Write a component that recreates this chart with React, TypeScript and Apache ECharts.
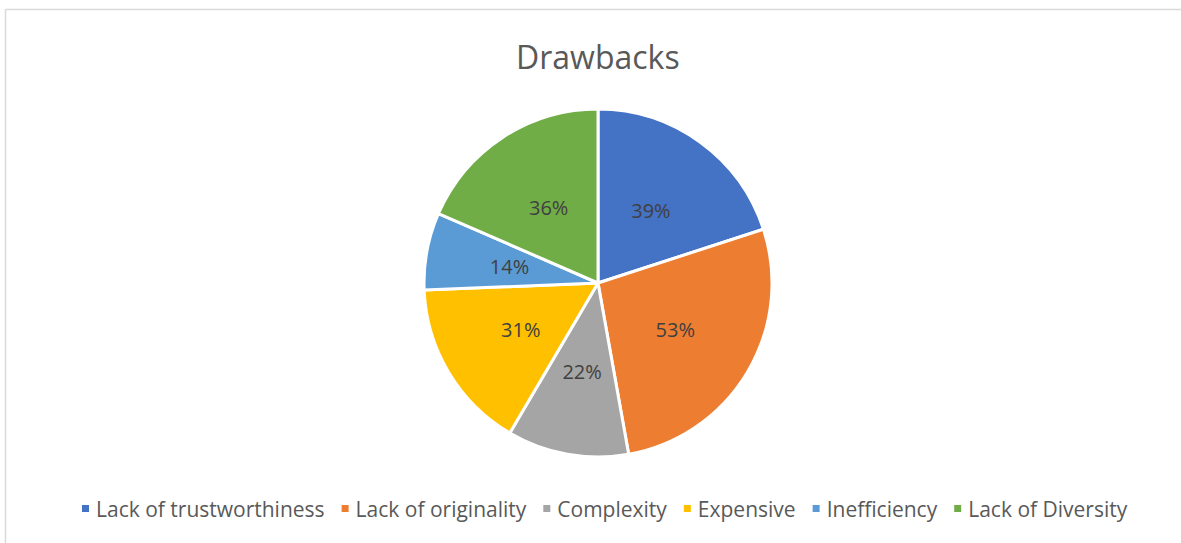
import React, { useEffect, useRef } from "react";
import * as echarts from "echarts";

const categories = [
  "Lack of trustworthiness",
  "Lack of originality",
  "Complexity",
  "Expensive",
  "Inefficiency",
  "Lack of Diversity",
];
const values = [39, 53, 22, 31, 14, 36];
const colors = ["#4472C4", "#ED7D31", "#A5A5A5", "#FFC000", "#5B9BD5", "#70AD47"];
const titleText = "Drawbacks";

export default function App() {
  const ref = useRef<HTMLDivElement>(null);
  useEffect(() => {
    if (!ref.current) return;
    const chart = echarts.init(ref.current, null, { renderer: "svg" });
    const font = "'Open Sans', sans-serif";
    chart.setOption({
      animation: false,
      backgroundColor: "#ffffff",
      color: colors,
      title: {
        text: titleText,
        left: 511,
        top: 35,
        textStyle: { fontFamily: font, fontSize: 32, fontWeight: "normal", color: "#595959" },
      },
      legend: {
        bottom: 19,
        left: 75,
        icon: "rect",
        itemWidth: 9,
        itemHeight: 9,
        itemGap: 15,
        textStyle: { fontFamily: font, fontSize: 21, color: "#595959", padding: [0, 0, 0, 1] },
        data: categories,
      },
      graphic: [
        { type: "line", shape: { x1: 5.5, y1: 9.5, x2: 1181, y2: 9.5 }, style: { stroke: "#d9d9d9", lineWidth: 1.5 } },
        { type: "line", shape: { x1: 5.5, y1: 9.5, x2: 5.5, y2: 543 }, style: { stroke: "#d9d9d9", lineWidth: 1.5 } },
      ],
      series: [
        {
          type: "pie",
          center: [598, 283],
          radius: [0, 174],
          startAngle: 90,
          clockwise: true,
          avoidLabelOverlap: false,
          itemStyle: { borderColor: "#ffffff", borderWidth: 3 },
          label: {
            show: true,
            position: "inner",
            formatter: (p: any) => p.value + "%",
            fontFamily: font,
            fontSize: 20,
            color: "#404040",
          },
          labelLine: { show: false },
          emphasis: { disabled: true },
          data: categories.map((c, i) => ({ name: c, value: values[i] })),
        },
      ],
    });
    return () => chart.dispose();
  }, []);
  return (
    <div
      ref={ref}
      style={{ position: "absolute", left: 0, top: 0, width: 1181, height: 543 }}
    />
  );
}
